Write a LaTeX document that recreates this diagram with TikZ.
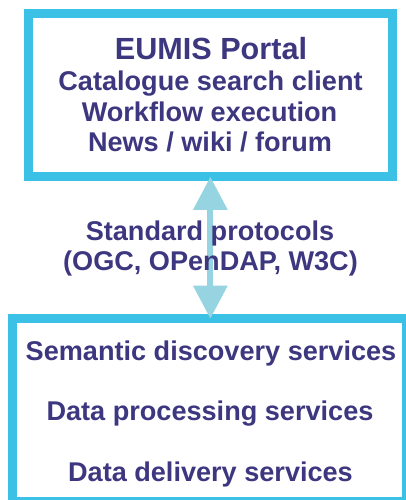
\documentclass[tikz,border=0pt]{standalone}
\usepackage{fontspec}
\setmainfont{Liberation Sans}
\usetikzlibrary{arrows.meta}
\definecolor{boxblue}{HTML}{3BC1E6}
\definecolor{arrblue}{HTML}{96D4E1}
\definecolor{txtpurple}{HTML}{3D3780}
\tikzset{
  panel/.style={draw=boxblue, line width=9.3pt, fill=white, inner sep=0pt, outer sep=0pt, rectangle},
  lbl/.style={text=txtpurple, font=\fontsize{27.1}{30}\selectfont\bfseries, anchor=base, inner sep=0pt},
  titlelbl/.style={lbl, font=\fontsize{30.6}{34}\selectfont\bfseries},
  dblarrow/.style={draw=arrblue, line width=6pt,
    {Triangle[width=33pt,length=33pt]}-{Triangle[width=33pt,length=33pt]}}
}
\begin{document}
\begin{tikzpicture}[x=1pt,y=1pt]
\useasboundingbox (0,0) rectangle (406,-500);
\clip (0,0) rectangle (406,-500);
\node[panel, minimum width=363.7pt, minimum height=163.5pt] (top) at (210.35,-95.05) {};
\node[panel, minimum width=394.3pt, minimum height=183.1pt] (bot) at (209.65,-410.25) {};
\draw[dblarrow] (top.south |- bot.north) -- (top.south);
\node[titlelbl] (t0) at (211,-60) {EUMIS Portal};
\node[lbl] (t1) at (210.5,-90.7) {Catalogue search client};
\node[lbl] (t2) at (209.5,-121.7) {Workflow execution};
\node[lbl] (t3) at (210,-151.7) {News / wiki / forum};
\node[lbl] (m1) at (210,-240) {Standard protocols};
\node[lbl] (m2) at (210.5,-270) {(OGC, OPenDAP, W3C)};
\node[lbl] (b1) at (211,-360) {Semantic discovery services};
\node[lbl] (b2) at (210,-420.7) {Data processing services};
\node[lbl] (b3) at (210.5,-481.7) {Data delivery services};
\end{tikzpicture}
\end{document}
